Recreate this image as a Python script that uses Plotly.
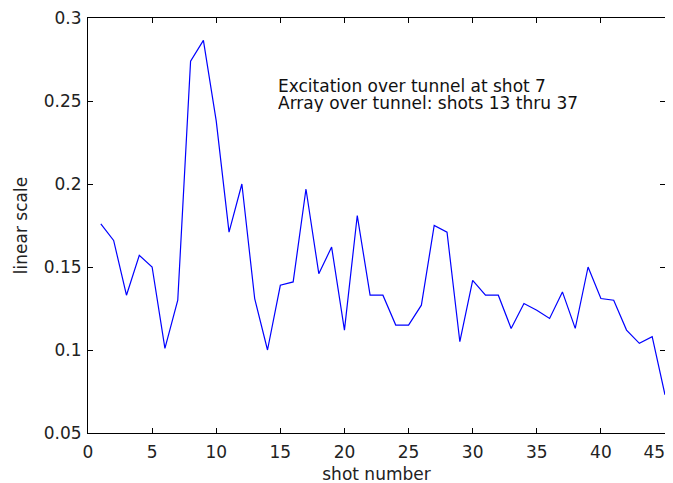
import plotly.graph_objects as go

shots = list(range(1, 46))
values = [0.176, 0.166, 0.133, 0.157, 0.150, 0.101, 0.130, 0.274, 0.2865, 0.238,
          0.171, 0.200, 0.131, 0.100, 0.139, 0.141, 0.197, 0.146, 0.162, 0.112,
          0.181, 0.133, 0.133, 0.115, 0.115, 0.127, 0.175, 0.171, 0.105, 0.142,
          0.133, 0.133, 0.113, 0.128, 0.124, 0.119, 0.135, 0.113, 0.150, 0.131,
          0.130, 0.112, 0.104, 0.108, 0.073]
x_ticks = [0, 5, 10, 15, 20, 25, 30, 35, 40, 45]
x_tick_labels = ["0", "5", "10", "15", "20", "25", "30", "35", "40", "45\u2007\u2007"]
y_ticks = [0.05, 0.1, 0.15, 0.2, 0.25, 0.3]
y_tick_labels = ["0.05", "0.1", "0.15", "0.2", "0.25", "0.3"]
note_lines = ["Excitation over tunnel at shot 7", "Array over tunnel: shots 13 thru 37"]

FONT = "DejaVu Sans"
FS = 17

fig = go.Figure()
fig.add_trace(go.Scatter(x=shots, y=values, mode="lines",
                         line=dict(color="#0000ff", width=1.2),
                         showlegend=False, hoverinfo="skip"))

axis_common = dict(showline=True, linecolor="black", linewidth=1, mirror="ticks",
                   ticks="inside", ticklen=5, tickcolor="black", showgrid=False,
                   zeroline=False, ticklabeloverflow="allow",
                   tickfont=dict(family=FONT, size=FS, color="#222"))

fig.update_xaxes(range=[0, 45], tickvals=x_ticks, ticktext=x_tick_labels, ticklabelstandoff=4,
                 title=dict(text="shot number", font=dict(family=FONT, size=FS, color="#222"), standoff=6),
                 **axis_common)
fig.update_yaxes(range=[0.05, 0.3], tickvals=y_ticks, ticktext=y_tick_labels, ticklabelstandoff=2,
                 title=dict(text="linear scale", font=dict(family=FONT, size=FS, color="#222"), standoff=11),
                 **axis_common)

for txt, yp in zip(note_lines, [0.836, 0.795]):
    fig.add_annotation(text=txt, xref="paper", yref="paper", x=0.328, y=yp,
                       xanchor="left", yanchor="middle", showarrow=False, height=18,
                       borderpad=0,
                       font=dict(family=FONT, size=FS, color="#111"))

# page body has an 8px default margin; margins compensate so the plot area lands where the reference has it
fig.update_layout(width=673, height=483, margin=dict(l=80, r=16, t=10, b=58, autoexpand=False),
                  plot_bgcolor="white", paper_bgcolor="white",
                  font=dict(family=FONT, size=FS, color="#222"))

fig.write_html("out.html")
